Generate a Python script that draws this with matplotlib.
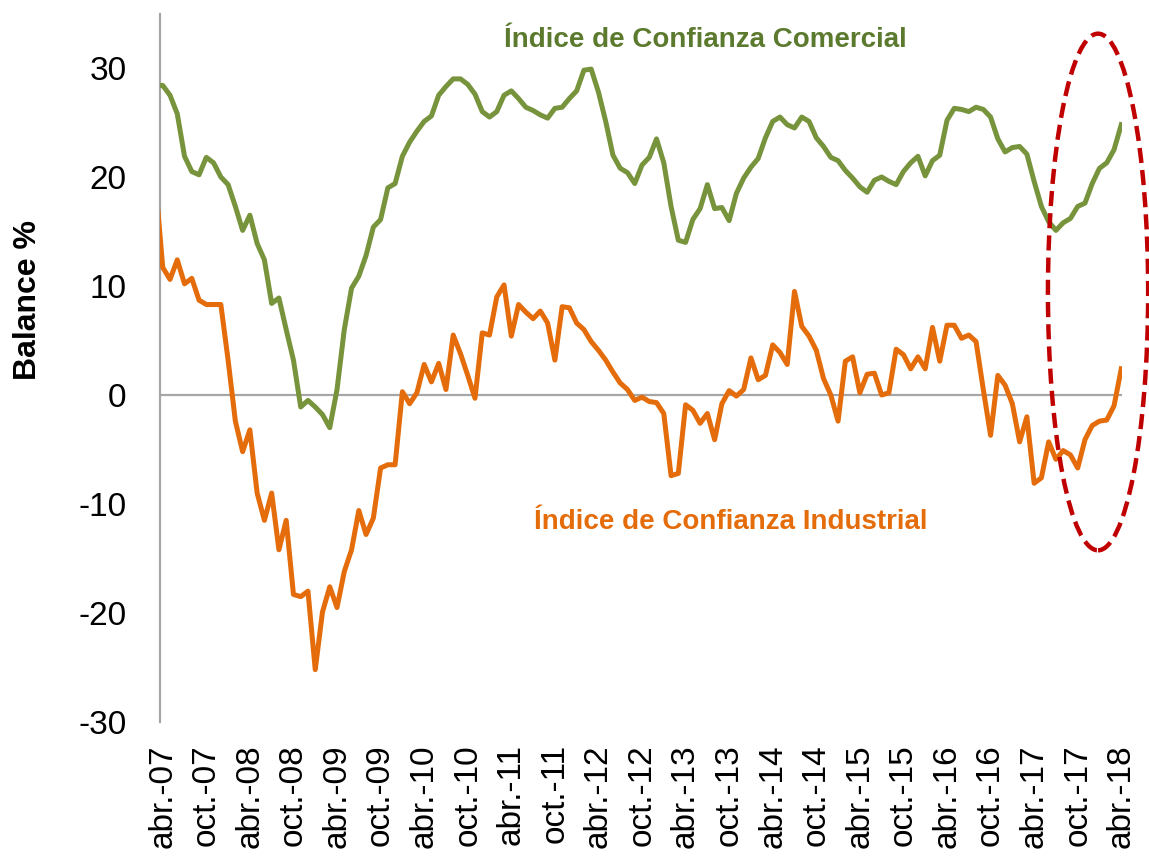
import numpy as np
import matplotlib
matplotlib.use("Agg")
import matplotlib.pyplot as plt
from matplotlib.patches import Ellipse

plt.rcParams['font.family'] = ['Liberation Sans', 'DejaVu Sans']
plt.rcParams['axes.unicode_minus'] = False

# monthly data, mar-07 (partly hidden at the axis) to abr-18
comercial = [28.4,
             28.4, 27.5, 25.8, 21.9, 20.5, 20.2, 21.8, 21.3, 20.0, 19.3, 17.3, 15.1,
             16.5, 13.9, 12.4, 8.4, 8.9, 6.0, 3.2, -1.1, -0.5, -1.1, -1.8, -3.0,
             0.5, 6.0, 9.8, 10.9, 12.8, 15.4, 16.1, 19.0, 19.4, 21.9, 23.2, 24.2,
             25.1, 25.6, 27.5, 28.3, 29.0, 29.0, 28.5, 27.6, 26.0, 25.5, 26.0, 27.5,
             27.9, 27.2, 26.4, 26.1, 25.7, 25.4, 26.3, 26.4, 27.2, 27.9, 29.8, 29.9,
             27.8, 25.1, 22.0, 20.8, 20.4, 19.4, 21.1, 21.8, 23.5, 21.3, 17.3, 14.2,
             14.0, 16.1, 17.1, 19.3, 17.1, 17.2, 16.0, 18.5, 19.9, 20.9, 21.7, 23.6,
             25.1, 25.5, 24.8, 24.5, 25.5, 25.1, 23.6, 22.8, 21.8, 21.5, 20.6, 19.9,
             19.1, 18.6, 19.7, 20.0, 19.6, 19.3, 20.5, 21.3, 21.9, 20.1, 21.5, 22.0,
             25.2, 26.3, 26.2, 26.0, 26.4, 26.2, 25.5, 23.5, 22.3, 22.7, 22.8, 22.1,
             19.6, 17.3, 15.9, 15.1, 15.8, 16.2, 17.3, 17.6, 19.4, 20.8, 21.3, 22.5,
             24.8]

industrial = [19.5,
              11.7, 10.6, 12.4, 10.2, 10.7, 8.7, 8.3, 8.3, 8.3, 3.2, -2.4, -5.2,
              -3.2, -9.0, -11.5, -9.0, -14.2, -11.5, -18.3, -18.5, -18.0, -25.2, -19.9, -17.6,
              -19.5, -16.2, -14.2, -10.6, -12.8, -11.3, -6.7, -6.4, -6.4, 0.3, -0.8, 0.2,
              2.8, 1.2, 2.9, 0.5, 5.5, 3.8, 1.8, -0.3, 5.7, 5.5, 9.0, 10.1,
              5.4, 8.3, 7.6, 7.0, 7.7, 6.6, 3.2, 8.1, 8.0, 6.6, 6.0, 4.9,
              4.1, 3.2, 2.1, 1.1, 0.5, -0.5, -0.2, -0.6, -0.7, -1.7, -7.4, -7.2,
              -0.9, -1.4, -2.6, -1.7, -4.1, -0.8, 0.4, -0.1, 0.5, 3.4, 1.4, 1.8,
              4.6, 3.9, 2.8, 9.5, 6.3, 5.4, 4.1, 1.5, 0.0, -2.4, 3.1, 3.5,
              0.2, 1.9, 2.0, 0.0, 0.2, 4.2, 3.7, 2.4, 3.5, 2.4, 6.2, 3.1,
              6.4, 6.4, 5.2, 5.5, 4.9, 0.5, -3.7, 1.8, 0.9, -0.8, -4.3, -2.0,
              -8.1, -7.6, -4.3, -5.9, -5.1, -5.5, -6.7, -4.1, -2.8, -2.4, -2.3, -1.0,
              2.4]

tick_labels = ['abr.-07', 'oct.-07', 'abr.-08', 'oct.-08', 'abr.-09', 'oct.-09',
               'abr.-10', 'oct.-10', 'abr.-11', 'oct.-11', 'abr.-12', 'oct.-12',
               'abr.-13', 'oct.-13', 'abr.-14', 'oct.-14', 'abr.-15', 'oct.-15',
               'abr.-16', 'oct.-16', 'abr.-17', 'oct.-17', 'abr.-18']

x = np.arange(len(comercial)) - 1   # 0 = abr-07

green = '#77933C'
orange = '#E46C0A'

fig = plt.figure(figsize=(11.49, 8.6), dpi=100)
ax = fig.add_axes([0.1393, 0.1605, 0.8372, 0.8238])

ax.axhline(0, color='#A6A6A6', lw=1.6, zorder=1)
ax.plot(x, comercial, color=green, lw=3.6, zorder=3, solid_joinstyle='round')
ax.plot(x, industrial, color=orange, lw=3.6, zorder=3, solid_joinstyle='round')

ax.set_xlim(-0.37, 132.1)
ax.set_ylim(-30, 35)
ax.set_yticks([-30, -20, -10, 0, 10, 20, 30])
ax.set_xticks(np.arange(0, 133, 6))
ax.set_xticklabels(tick_labels, rotation=90, fontsize=24)
ax.tick_params(axis='y', length=0, pad=24, labelsize=24)
ax.tick_params(axis='x', length=0, pad=16)

for s in ['top', 'right', 'bottom']:
    ax.spines[s].set_visible(False)
ax.spines['left'].set_color('#A6A6A6')
ax.spines['left'].set_linewidth(1.6)

ax.set_ylabel('Balance %', fontsize=23, fontweight='bold')
ax.yaxis.set_label_coords(-0.122, 0.596)

ax.text(74.7, 32.6, 'Índice de Confianza Comercial', color='#5B7A2E',
        fontsize=20, fontweight='bold', ha='center', va='center')
ax.text(78.2, -11.65, 'Índice de Confianza Industrial', color=orange,
        fontsize=20, fontweight='bold', ha='center', va='center')

ell = Ellipse((128.8, 9.45), 13.8, 47.4, fill=False, ec='#C00000', lw=3.2,
              ls=(0, (3.4, 1.6)), clip_on=False, zorder=4)
ax.add_patch(ell)

fig.savefig('out.png', dpi=100)
